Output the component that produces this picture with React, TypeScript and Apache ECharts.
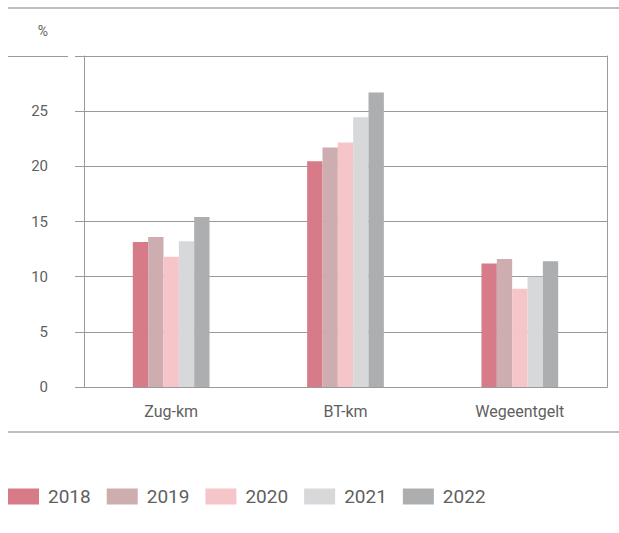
import React, { useEffect, useRef } from "react";
import * as echarts from "echarts";

const categories = ["Zug-km", "BT-km", "Wegeentgelt"];
const years = ["2018", "2019", "2020", "2021", "2022"];
const values2018 = [13.15, 20.45, 11.2];
const values2019 = [13.6, 21.7, 11.6];
const values2020 = [11.8, 22.15, 8.9];
const values2021 = [13.2, 24.45, 10.0];
const values2022 = [15.4, 26.7, 11.4];
const seriesValues = [values2018, values2019, values2020, values2021, values2022];
const colors = ["#d67b87", "#cdadb0", "#f5c5c9", "#d7d8da", "#adaeb0"];

const FONT = "Roboto, 'Noto Sans', sans-serif";
const LINE = "#9a9a9a";
const TEXT = "#5f5f5f";

export default function App() {
  const ref = useRef<HTMLDivElement>(null);
  useEffect(() => {
    if (!ref.current) return;
    const chart = echarts.init(ref.current, null, { renderer: "svg" });
    chart.setOption({
      animation: false,
      backgroundColor: "#fff",
      textStyle: { fontFamily: FONT },
      grid: { left: 84, right: 12, top: 56, bottom: 146 },
      legend: {
        data: years,
        left: 8,
        top: 487,
        padding: 0,
        itemWidth: 31,
        itemHeight: 16,
        itemGap: 16,
        icon: "rect",
        textStyle: { fontSize: 19, color: TEXT, fontFamily: FONT, padding: [0, 0, 0, 4] },
      },
      xAxis: [
        {
          type: "category",
          data: categories,
          position: "bottom",
          axisLine: { lineStyle: { color: LINE, width: 1 } },
          axisTick: { inside: true, length: 9, lineStyle: { color: LINE } },
          axisLabel: { fontSize: 16, color: TEXT, margin: 16, fontFamily: FONT },
        },
        {
          type: "category",
          data: categories,
          position: "top",
          axisLine: { lineStyle: { color: LINE, width: 1 } },
          axisTick: { inside: true, length: 5, lineStyle: { color: LINE } },
          axisLabel: { show: false },
        },
      ],
      yAxis: [
        {
          type: "value",
          min: 0,
          max: 30,
          interval: 5,
          name: "%",
          nameLocation: "end",
          nameGap: 18,
          nameTextStyle: { fontSize: 14, color: TEXT, align: "right", padding: [0, 36, 0, 0], fontFamily: FONT },
          axisLine: { show: true, lineStyle: { color: LINE } },
          axisTick: { show: true, length: 9, lineStyle: { color: LINE } },
          axisLabel: { fontSize: 15, color: TEXT, margin: 36, showMaxLabel: false, fontFamily: FONT },
          splitLine: { show: true, lineStyle: { color: LINE, width: 1 } },
        },
        {
          type: "value",
          min: 0,
          max: 30,
          interval: 5,
          position: "left",
          axisLine: { show: false },
          axisTick: { show: true, inside: true, length: 11, lineStyle: { color: LINE } },
          axisLabel: { show: false },
          splitLine: { show: false },
        },
        {
          type: "value",
          min: 0,
          max: 30,
          interval: 5,
          position: "right",
          axisLine: { show: true, lineStyle: { color: LINE } },
          axisTick: { show: false },
          axisLabel: { show: false },
          splitLine: { show: false },
        },
      ],
      series: years.map((y, i) => ({
        name: y,
        type: "bar",
        data: seriesValues[i],
        itemStyle: { color: colors[i] },
        barGap: "0%",
        barCategoryGap: "56%",
        xAxisIndex: 0,
        yAxisIndex: 0,
      })),
      graphic: [
        { type: "line", shape: { x1: 8, y1: 8, x2: 619, y2: 8 }, style: { stroke: "#bdbdbd", lineWidth: 2 }, silent: true },
        { type: "line", shape: { x1: 8, y1: 432, x2: 619, y2: 432 }, style: { stroke: "#bdbdbd", lineWidth: 2 }, silent: true },
        { type: "line", shape: { x1: 8, y1: 56.5, x2: 68, y2: 56.5 }, style: { stroke: LINE, lineWidth: 1 }, silent: true },
        { type: "line", shape: { x1: 75, y1: 56.5, x2: 84, y2: 56.5 }, style: { stroke: LINE, lineWidth: 1 }, silent: true },
      ],
    });
    return () => chart.dispose();
  }, []);
  return <div ref={ref} style={{ width: 619, height: 533, position: "absolute", left: 0, top: 0 }} />;
}
